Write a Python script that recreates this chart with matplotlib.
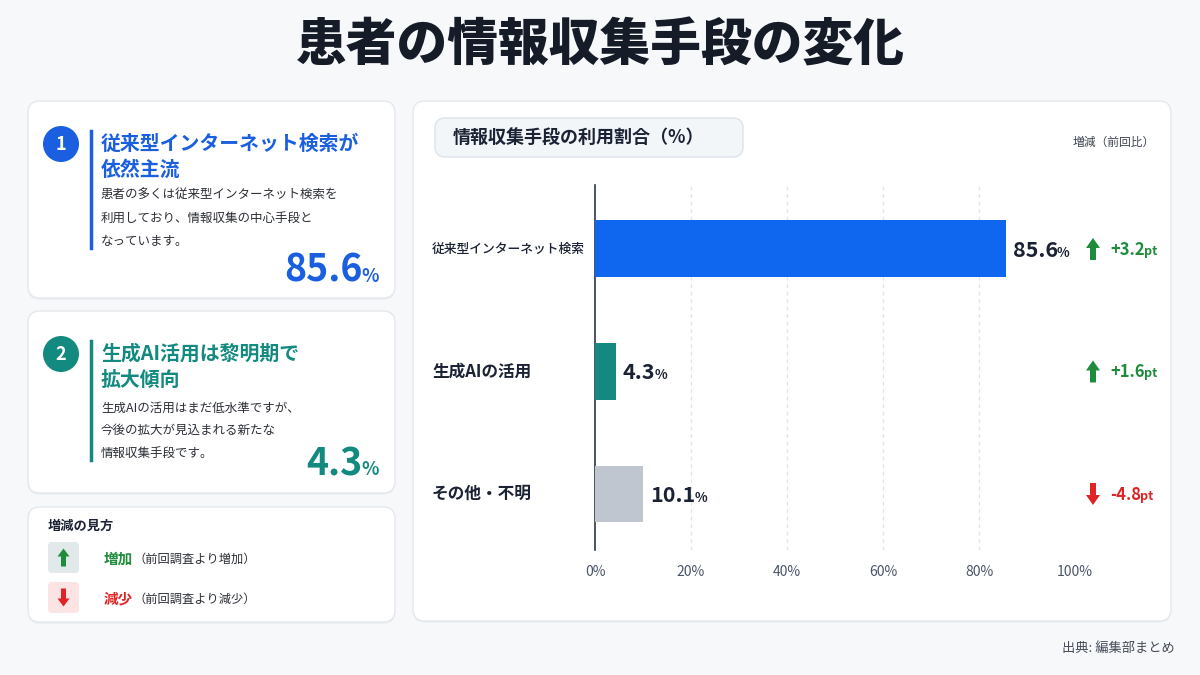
import matplotlib.pyplot as plt
from matplotlib.patches import FancyBboxPatch, Circle, Polygon
from matplotlib.transforms import Affine2D, blended_transform_factory
from matplotlib.lines import Line2D

plt.rcParams['font.family'] = ['Noto Sans CJK JP', 'DejaVu Sans']

# data
categories = ['従来型インターネット検索', '生成AIの活用', 'その他・不明']
shares = [85.6, 4.3, 10.1]
changes = [3.2, 1.6, -4.8]
bar_colors = ['#0f67f0', '#13897f', '#bfc6d0']
x_ticks = [0, 20, 40, 60, 80, 100]
x_tick_labels = ['0%', '20%', '40%', '60%', '80%', '100%']

W, H = 1200, 675
BLUE = '#1a5fe0'
TEAL = '#138a80'
GREEN = '#1e8c3a'
RED = '#e02424'
DARK = '#1a2233'

fig = plt.figure(figsize=(12, 6.75), dpi=100)
fig.patch.set_facecolor('#f7f8fa')
# pixel coords, origin top-left
px = Affine2D().scale(1 / W, -1 / H).translate(0, 1) + fig.transFigure
renderer = fig.canvas.get_renderer()


def card(x, y, w, h, fc='white', ec='#e4e8ed', r=12, shadow=True):
    if shadow:
        fig.add_artist(FancyBboxPatch((x, y + 2), w, h, boxstyle=f'round,pad=0,rounding_size={r}',
                                      transform=px, fc='#eceff3', ec='none', zorder=0))
    fig.add_artist(FancyBboxPatch((x, y), w, h, boxstyle=f'round,pad=0,rounding_size={r}',
                                  transform=px, fc=fc, ec=ec, lw=1, zorder=1))


def txt(x, y, s, size, color=DARK, weight='normal', ha='left', va='center'):
    return fig.text(x, y, s, transform=px, fontsize=size, color=color,
                    fontweight=weight, ha=ha, va=va, zorder=5)


def mixed(x, y, main, unit, size, usize, color, ha='left', gap=-1):
    # main text + smaller unit on the same baseline (y = baseline in px)
    t1 = txt(x, y, main, size, color, 'bold', va='baseline')
    t2 = txt(x, y, unit, usize, color, 'bold', va='baseline')
    w1 = t1.get_window_extent(renderer).width
    w2 = t2.get_window_extent(renderer).width
    x0 = x - w1 - w2 - gap if ha == 'right' else x
    t1.set_x(x0)
    t2.set_x(x0 + w1 + gap)


def arrow(cx, cy, up, color, h=22, hw=14, hl=10, sw=6):
    top, bot = cy - h / 2, cy + h / 2
    if up:
        pts = [(cx, top), (cx + hw / 2, top + hl), (cx + sw / 2, top + hl), (cx + sw / 2, bot),
               (cx - sw / 2, bot), (cx - sw / 2, top + hl), (cx - hw / 2, top + hl)]
    else:
        pts = [(cx, bot), (cx + hw / 2, bot - hl), (cx + sw / 2, bot - hl), (cx + sw / 2, top),
               (cx - sw / 2, top), (cx - sw / 2, bot - hl), (cx - hw / 2, bot - hl)]
    fig.add_artist(Polygon(pts, closed=True, transform=px, fc=color, ec='none', zorder=6))


# title
txt(W / 2, 45, '患者の情報収集手段の変化', 36.5, '#151c28', 'heavy', ha='center')

# ---- left cards ----
points = [
    dict(num='1', color=BLUE, top=101, h=197,
         head=['従来型インターネット検索が', '依然主流'],
         body=['患者の多くは従来型インターネット検索を', '利用しており、情報収集の中心手段と', 'なっています。'],
         value=shares[0], body_y=[195, 219, 242], line=(131, 248), val_y=282),
    dict(num='2', color=TEAL, top=311, h=182,
         head=['生成AI活用は黎明期で', '拡大傾向'],
         body=['生成AIの活用はまだ低水準ですが、', '今後の拡大が見込まれる新たな', '情報収集手段です。'],
         value=shares[1], body_y=[408, 430, 453], line=(341, 460), val_y=475),
]
for p in points:
    card(28, p['top'], 367, p['h'])
    cy = p['top'] + 43
    fig.add_artist(Circle((61, cy), 18, transform=px, fc=p['color'], ec='none', zorder=4))
    txt(61, cy, p['num'], 13, 'white', 'bold', ha='center')
    fig.add_artist(Line2D([91, 91], list(p['line']), transform=px, color=p['color'], lw=2.5, zorder=4))
    txt(101, cy - 1, p['head'][0], 14.3, p['color'], 'bold')
    txt(101, cy + 25, p['head'][1], 14.3, p['color'], 'bold')
    for line, by in zip(p['body'], p['body_y']):
        txt(101, by, line, 9, '#2b2f36')
    mixed(379, p['val_y'], f"{p['value']}", '%', 27, 13, p['color'], ha='right')

# legend card
card(28, 507, 367, 115)
txt(48, 526, '増減の見方', 9.5, DARK, 'bold')
legend_rows = [('増加', '（前回調査より増加）', GREEN, '#e2e9eb', True, 557),
               ('減少', '（前回調査より減少）', RED, '#fde4e4', False, 597)]
for word, note, col, bg, up, ly in legend_rows:
    fig.add_artist(FancyBboxPatch((48, ly - 15), 31, 31, boxstyle='round,pad=0,rounding_size=4',
                                  transform=px, fc=bg, ec='none', zorder=3))
    arrow(63.5, ly + 0.5, up, col, h=18, hw=12, hl=8, sw=5)
    t = txt(104, ly + 2, word, 10.5, col, 'bold')
    w = t.get_window_extent(renderer).width
    txt(104 + w, ly + 2, note, 8.8, '#2b2f36')

# ---- chart card ----
card(413, 101, 758, 520)
fig.add_artist(FancyBboxPatch((435, 118), 308, 39, boxstyle='round,pad=0,rounding_size=10',
                              transform=px, fc='#f3f6f9', ec='#dde3ea', lw=1, zorder=3))
txt(453, 137, '情報収集手段の利用割合（%）', 13, DARK, 'bold')
txt(1155, 142, '増減（前回比）', 8.5, '#3d4452', ha='right')

ax = fig.add_axes([595 / W, 1 - 550 / H, 480 / W, 365 / H])
ax.set_zorder(3)
ax.set_facecolor('none')
y = list(range(len(categories)))
ax.barh(y, shares, height=0.465, color=bar_colors, zorder=3)
ax.set_xlim(0, 100)
ax.set_ylim(2.457, -0.522)
for g in x_ticks[1:-1]:
    ax.axvline(g, color='#e0e4e9', lw=0.9, ls=(0, (3, 3)), zorder=1)
for s in ['top', 'right', 'bottom']:
    ax.spines[s].set_visible(False)
ax.spines['left'].set_color('#2d3748')
ax.spines['left'].set_linewidth(1.2)
ax.set_yticks([])
ax.set_xticks([])
# tick labels
tb = blended_transform_factory(ax.transData, px)
for v, lab in zip(x_ticks, x_tick_labels):
    fig.text(v, 572, lab, transform=tb, fontsize=10, color='#4a5568', ha='center', va='center')

# category labels, values and changes
fig.canvas.draw()
cat_sizes = [9.2, 12, 12]
for i, (cat, v, ch) in enumerate(zip(categories, shares, changes)):
    dx, dy = ax.transData.transform((v, i))
    cy = H - dy
    txt(432, cy, cat, cat_sizes[i], DARK, 'bold' if cat_sizes[i] > 10 else 'medium')
    mixed(dx + 7, cy + 8, f'{v}', '%', 15.5, 9.5, DARK)
    col = GREEN if ch > 0 else RED
    arrow(1093, cy, ch > 0, col)
    mixed(1110, cy + 6, f'{ch:+.1f}', 'pt', 12, 9, col)

# source
txt(1175, 648, '出典: 編集部まとめ', 9.5, '#444b57', ha='right')

fig.savefig('out.png', dpi=100, facecolor=fig.get_facecolor())
